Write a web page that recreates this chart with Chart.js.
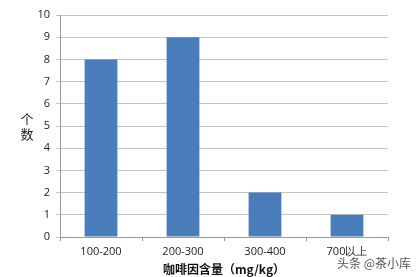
<!DOCTYPE html>
<html>
<head>
<meta charset="utf-8">
<script src="https://cdn.jsdelivr.net/npm/chart.js@4/dist/chart.umd.min.js"></script>
<style>
  html, body { margin: 0; padding: 0; background: #fff; }
  #wrap { width: 420px; height: 277px; position: relative; }
</style>
</head>
<body>
<div id="wrap"><canvas id="c"></canvas></div>
<script>
// data
var categories = ['100-200', '200-300', '300-400', '700以上'];
var counts = [8, 9, 2, 1];
var yTitle = ['个', '数'];
var xTitle = '咖啡因含量（mg/kg）';
var watermark = '头条 @茶小库';

var cjk = '"Noto Sans CJK SC", "Noto Sans", sans-serif';

// excel style stacked y title + watermark
var extras = {
  id: 'extras',
  afterDraw: function (chart) {
    var ctx = chart.ctx;
    ctx.save();
    ctx.font = '13px ' + cjk;
    ctx.fillStyle = '#222';
    ctx.textAlign = 'center';
    ctx.textBaseline = 'middle';
    for (var i = 0; i < yTitle.length; i++) {
      ctx.fillText(yTitle[i], 27, 119 + i * 15);
    }
    ctx.font = '12px ' + cjk;
    ctx.textAlign = 'right';
    ctx.lineWidth = 2.5;
    ctx.strokeStyle = 'rgba(255,255,255,0.9)';
    ctx.strokeText(watermark, 411, 263);
    ctx.fillStyle = '#555';
    ctx.fillText(watermark, 411, 263);
    ctx.restore();
  }
};

new Chart(document.getElementById('c'), {
  type: 'bar',
  data: {
    labels: categories,
    datasets: [{
      data: counts,
      backgroundColor: '#4a7ebb',
      borderWidth: 0,
      categoryPercentage: 1,
      barPercentage: 0.4
    }]
  },
  options: {
    responsive: true,
    maintainAspectRatio: false,
    animation: false,
    layout: { padding: { top: 15, right: 32, left: 0, bottom: 0 } },
    plugins: { legend: { display: false }, tooltip: { enabled: false } },
    scales: {
      x: {
        afterFit: function (s) { s.height = 40; },
        grid: { drawOnChartArea: false, offset: true, tickLength: 4, color: '#999' },
        border: { color: '#999' },
        ticks: { padding: 4, color: '#222', font: { family: '"Open Sans", sans-serif', size: 11 } },
        title: {
          display: true, text: xTitle, color: '#111',
          font: { family: cjk, size: 12, weight: 'bold' },
          padding: { top: 0, bottom: 0 }
        }
      },
      y: {
        min: 0, max: 10,
        afterFit: function (s) { s.width = 60; },
        grid: { color: '#c4c4c4', tickLength: 4 },
        border: { color: '#999' },
        ticks: { stepSize: 1, padding: 6, color: '#222', font: { family: '"Open Sans", sans-serif', size: 11 } }
      }
    }
  },
  plugins: [extras]
});
</script>
</body>
</html>
